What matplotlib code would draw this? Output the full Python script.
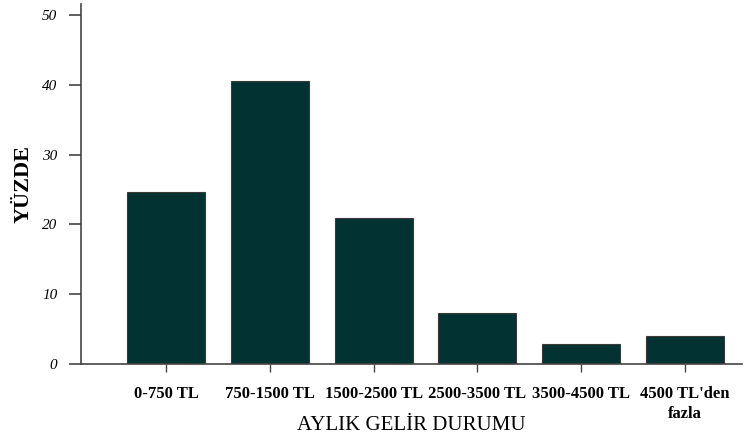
import matplotlib
matplotlib.use('Agg')
import matplotlib.pyplot as plt

categories = ['0-750 TL', '750-1500 TL', '1500-2500 TL', '2500-3500 TL',
              '3500-4500 TL', "4500 TL'den\nfazla"]
values = [24.6, 40.5, 20.9, 7.3, 2.9, 4.0]
yticks = [0, 10, 20, 30, 40, 50]

plt.rcParams['font.family'] = ['Liberation Serif', 'DejaVu Serif']

fig = plt.figure(figsize=(7.46, 4.37), dpi=100)
ax = fig.add_axes([0.1086, 0.167, 0.886, 0.823])

x = range(len(categories))
ax.bar(x, values, width=0.75, color='#023232', edgecolor='#3a3a3a', linewidth=0.8)

ax.set_xlim(-0.82, 5.55)
ax.set_ylim(0, 51.5)
ax.set_yticks(yticks)
ax.set_yticklabels([str(v) for v in yticks], fontstyle='italic', fontsize=11)
ax.set_xticks(list(x))
ax.set_xticklabels(categories, fontweight='bold', fontsize=12, linespacing=1.3)

for s in ['top', 'right']:
    ax.spines[s].set_visible(False)
for s in ['left', 'bottom']:
    ax.spines[s].set_color('#444444')
    ax.spines[s].set_linewidth(1.2)

ax.tick_params(axis='y', direction='out', length=9, width=1.2, color='#444444', pad=8)
ax.tick_params(axis='x', direction='out', length=6, width=1, color='#444444', pad=10)

ax.set_ylabel('YÜZDE', fontweight='bold', fontsize=16, labelpad=6)
ax.set_xlabel('AYLIK GELİR DURUMU', fontsize=15, labelpad=-4)

fig.savefig('out.png', dpi=100)
